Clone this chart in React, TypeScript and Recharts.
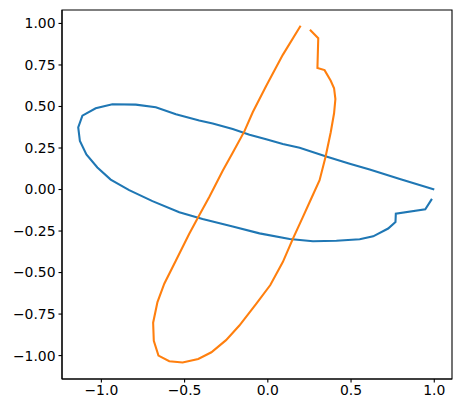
import React from "react";
import { LineChart, Line, XAxis, YAxis, ReferenceArea } from "recharts";

const blueX = [1.0, 0.793, 0.612, 0.492, 0.351, 0.191, 0.09, -0.01, -0.11, -0.211, -0.331, -0.412, -0.552, -0.673, -0.793, -0.934, -1.034, -1.114, -1.139, -1.129, -1.09, -1.024, -0.944, -0.833, -0.693, -0.532, -0.392, -0.211, -0.05, 0.131, 0.271, 0.412, 0.552, 0.633, 0.723, 0.767, 0.769, 0.946, 0.986];
const blueY = [0.0, 0.064, 0.12, 0.155, 0.199, 0.252, 0.274, 0.302, 0.33, 0.364, 0.398, 0.416, 0.453, 0.495, 0.511, 0.513, 0.489, 0.445, 0.374, 0.292, 0.211, 0.133, 0.06, -0.004, -0.07, -0.137, -0.177, -0.223, -0.264, -0.298, -0.312, -0.308, -0.3, -0.282, -0.235, -0.195, -0.145, -0.119, -0.056];

const orangeX = [0.197, 0.09, -0.01, -0.09, -0.141, -0.211, -0.271, -0.351, -0.412, -0.472, -0.552, -0.622, -0.663, -0.689, -0.685, -0.657, -0.592, -0.512, -0.418, -0.339, -0.251, -0.171, -0.07, 0.015, 0.09, 0.151, 0.211, 0.261, 0.311, 0.347, 0.378, 0.398, 0.406, 0.398, 0.378, 0.341, 0.298, 0.303, 0.253];
const orangeY = [0.986, 0.811, 0.624, 0.467, 0.35, 0.221, 0.113, -0.044, -0.155, -0.266, -0.427, -0.567, -0.678, -0.802, -0.911, -1.0, -1.034, -1.042, -1.02, -0.98, -0.907, -0.819, -0.688, -0.575, -0.437, -0.296, -0.165, -0.054, 0.056, 0.197, 0.345, 0.459, 0.545, 0.61, 0.655, 0.719, 0.732, 0.911, 0.962];

const xTicks = [-1, -0.5, 0, 0.5, 1];
const yTicks = [-1, -0.75, -0.5, -0.25, 0, 0.25, 0.5, 0.75, 1];

const blueData = blueX.map((x, i) => ({ x, y: blueY[i] }));
const orangeData = orangeX.map((x, i) => ({ x, y: orangeY[i] }));

const fmt = (d: number) => (v: number) => {
  const s = Math.abs(v).toFixed(d);
  return v < 0 ? "\u2212" + s : s;
};

const xDomain: [number, number] = [-1.2365, 1.1065];
const yDomain: [number, number] = [-1.141, 1.081];
const font = { fontFamily: "DejaVu Sans", fontSize: 13.9, fill: "#000" };

export default function App() {
  return (
    <div style={{ position: "absolute", left: 0, top: 0, background: "#fff" }}>
      <LineChart width={461} height={413} margin={{ top: 10, right: 9, left: 0, bottom: 0 }}>
        <XAxis
          dataKey="x"
          type="number"
          domain={xDomain}
          allowDataOverflow
          ticks={xTicks}
          tickFormatter={fmt(1)}
          tick={font}
          tickSize={3.5}
          tickMargin={3}
          height={34}
          stroke="#000"
          tickLine={{ stroke: "#000", strokeWidth: 1.1 }}
          axisLine={{ stroke: "#000", strokeWidth: 1.1 }}
        />
        <YAxis
          dataKey="y"
          type="number"
          domain={yDomain}
          allowDataOverflow
          ticks={yTicks}
          tickFormatter={fmt(2)}
          tick={font}
          tickSize={3.5}
          tickMargin={3}
          width={62}
          stroke="#000"
          tickLine={{ stroke: "#000", strokeWidth: 1.1 }}
          axisLine={{ stroke: "#000", strokeWidth: 1.1 }}
        />
        <ReferenceArea
          x1={xDomain[0]}
          x2={xDomain[1]}
          y1={yDomain[0]}
          y2={yDomain[1]}
          ifOverflow="visible"
          fill="none"
          fillOpacity={0}
          stroke="#000"
          strokeWidth={1.1}
          strokeOpacity={1}
        />
        <Line data={blueData} dataKey="y" stroke="#1f77b4" strokeWidth={2.08} dot={false} isAnimationActive={false} />
        <Line data={orangeData} dataKey="y" stroke="#ff7f0e" strokeWidth={2.08} dot={false} isAnimationActive={false} />
      </LineChart>
    </div>
  );
}
